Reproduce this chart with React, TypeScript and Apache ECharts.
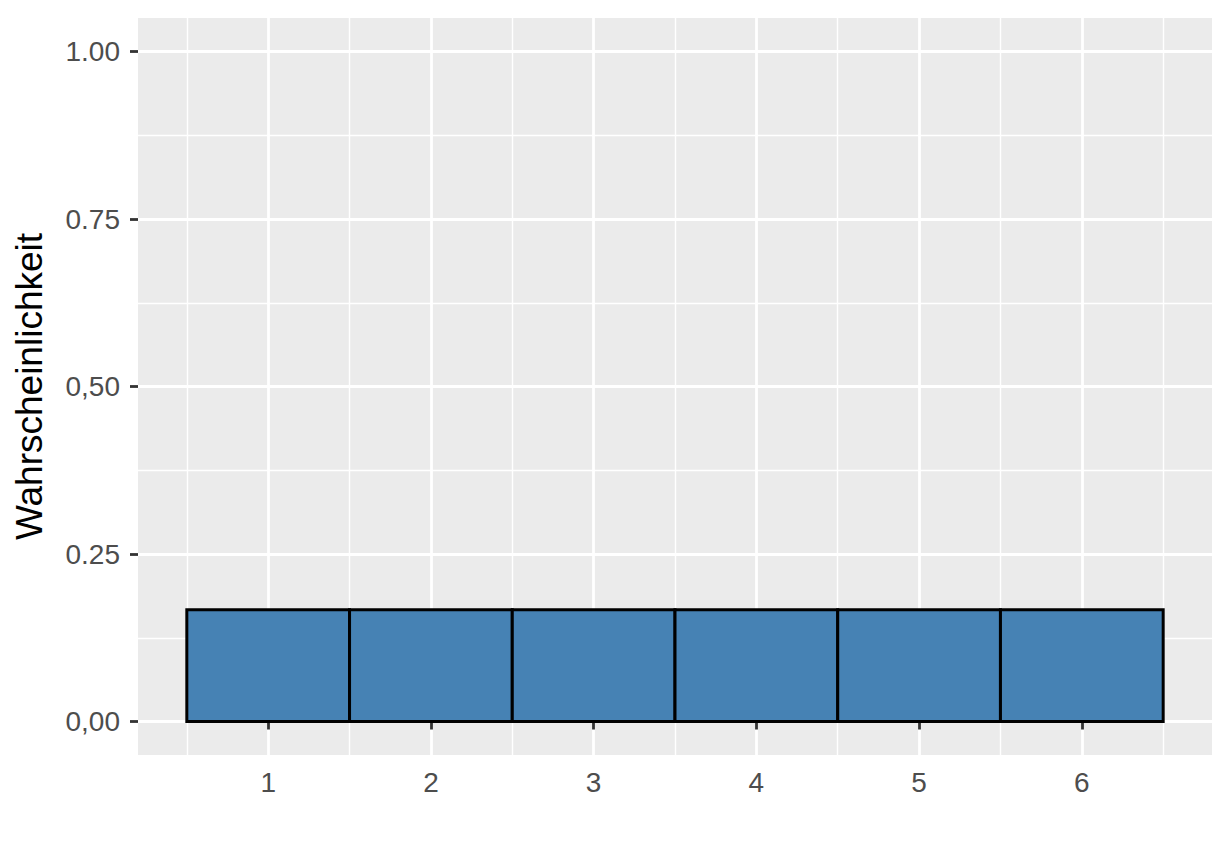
import React, { useEffect, useRef } from "react";
import * as echarts from "echarts";

const categories = [1, 2, 3, 4, 5, 6];
const probabilities = [0.1667, 0.1667, 0.1667, 0.1667, 0.1667, 0.1667];
const xMajorTicks = [1, 2, 3, 4, 5, 6];
const xMinorTicks = [0.5, 1.5, 2.5, 3.5, 4.5, 5.5, 6.5];
const yMajorTicks = [0, 0.25, 0.5, 0.75, 1];
const yTickLabels = ["0,00", "0.25", "0,50", "0.75", "1.00"];
const yMinorTicks = [0.125, 0.375, 0.625, 0.875];
const yTitle = "Wahrscheinlichkeit";

const FONT = "'Liberation Sans', Arial, Helvetica, sans-serif";

export default function App() {
  const ref = useRef<HTMLDivElement>(null);
  useEffect(() => {
    if (!ref.current) return;
    const chart = echarts.init(ref.current, null, { renderer: "svg" });
    const xRange = { min: 0.2, max: 6.8 };
    const yRange = { min: -0.05, max: 1.05 };
    chart.setOption({
      animation: false,
      backgroundColor: "#FFFFFF",
      grid: {
        left: 138,
        right: 20,
        top: 18,
        bottom: 109,
        show: true,
        backgroundColor: "#EBEBEB",
        borderWidth: 0,
        containLabel: false,
        outerBoundsMode: "none",
      },
      xAxis: [
        {
          type: "value",
          ...xRange,
          axisLine: { show: false },
          axisTick: {
            show: true,
            length: 8,
            customValues: xMajorTicks,
            lineStyle: { color: "#333333", width: 2.8 },
          },
          axisLabel: {
            customValues: xMajorTicks,
            margin: 13,
            color: "#4D4D4D",
            fontSize: 28,
            fontFamily: FONT,
            formatter: (v: number) => String(v),
          },
          splitLine: { show: true, lineStyle: { color: "#FFFFFF", width: 2.8 } },
          z: 2,
        },
        {
          type: "value",
          ...xRange,
          axisLine: { show: false },
          axisTick: { show: false, customValues: xMinorTicks },
          axisLabel: { show: false, customValues: xMinorTicks },
          splitLine: { show: true, lineStyle: { color: "#FFFFFF", width: 1.4 } },
          z: 1,
        },
      ],
      yAxis: [
        {
          type: "value",
          ...yRange,
          name: yTitle,
          nameLocation: "middle",
          nameGap: 90,
          nameRotate: 90,
          nameTextStyle: { color: "#000000", fontSize: 37, fontFamily: FONT },
          axisLine: { show: false },
          axisTick: {
            show: true,
            length: 8,
            customValues: yMajorTicks,
            lineStyle: { color: "#333333", width: 2.8 },
          },
          axisLabel: {
            customValues: yMajorTicks,
            margin: 18,
            color: "#4D4D4D",
            fontSize: 28,
            fontFamily: FONT,
            formatter: (v: number) => {
              const i = yMajorTicks.findIndex((t) => Math.abs(t - v) < 1e-9);
              return i >= 0 ? yTickLabels[i] : "";
            },
          },
          splitLine: { show: true, lineStyle: { color: "#FFFFFF", width: 2.8 } },
          z: 2,
        },
        {
          type: "value",
          ...yRange,
          axisLine: { show: false },
          axisTick: { show: false, customValues: yMinorTicks },
          axisLabel: { show: false, customValues: yMinorTicks },
          splitLine: { show: true, lineStyle: { color: "#FFFFFF", width: 1.4 } },
          z: 1,
        },
      ],
      series: [
        {
          type: "custom",
          xAxisIndex: 0,
          yAxisIndex: 0,
          data: categories.map((c, i) => [c, probabilities[i]]),
          renderItem: (params: any, api: any) => {
            const x = api.value(0);
            const y = api.value(1);
            const p0 = api.coord([x - 0.5, y]);
            const p1 = api.coord([x + 0.5, 0]);
            return {
              type: "rect",
              shape: { x: p0[0], y: p0[1], width: p1[0] - p0[0], height: p1[1] - p0[1] },
              style: { fill: "#4682B4", stroke: "#000000", lineWidth: 3 },
            };
          },
          z: 5,
        },
      ],
    });
    return () => chart.dispose();
  }, []);
  return (
    <div
      ref={ref}
      style={{ position: "fixed", left: 0, top: 0, width: 1232, height: 864 }}
    />
  );
}
